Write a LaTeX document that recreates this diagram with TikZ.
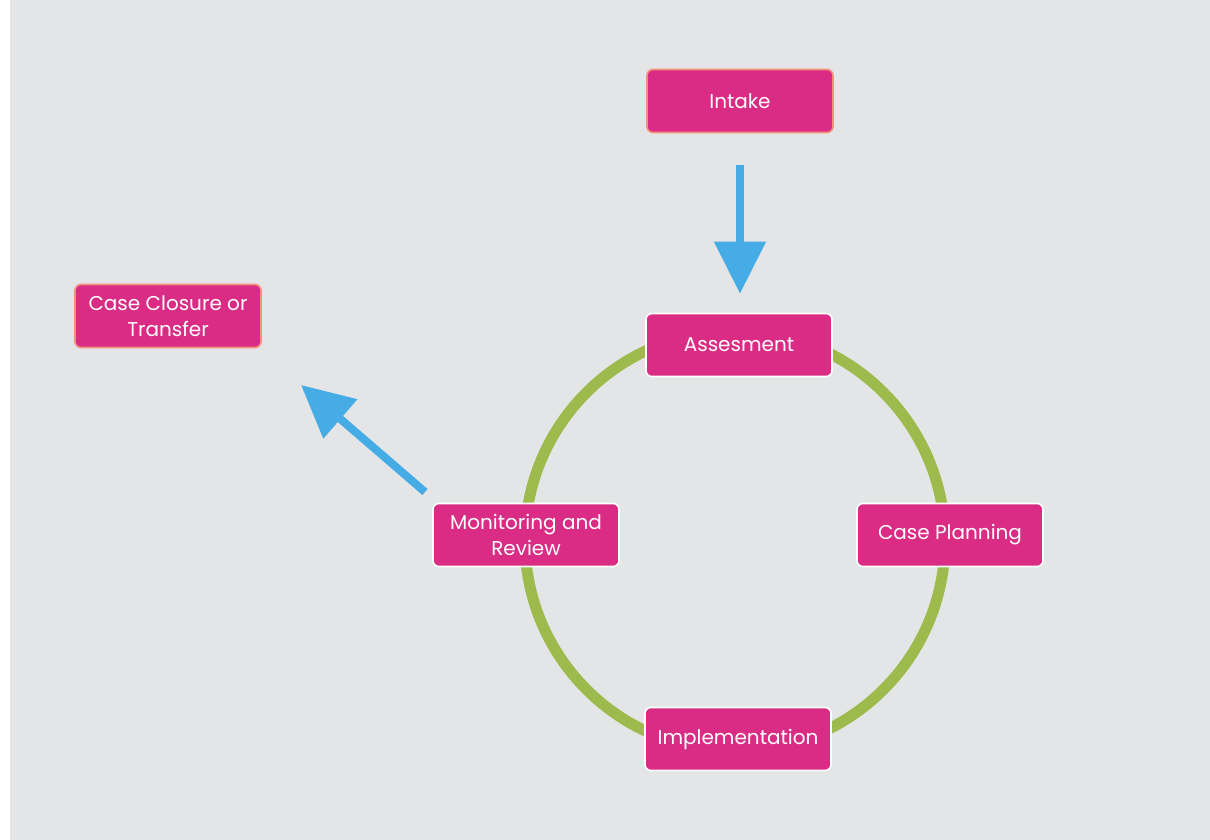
\documentclass[tikz,border=0pt]{standalone}
\usepackage{fontspec}
\setmainfont{Poppins}
\usetikzlibrary{arrows.meta}
\definecolor{bgc}{HTML}{E4E5E6}
\definecolor{boxpink}{HTML}{DA2C84}
\definecolor{peach}{HTML}{F3907A}
\definecolor{ringgreen}{HTML}{9CBB4C}
\definecolor{arrowblue}{HTML}{45ACE5}
\tikzset{
  stagebox/.style={draw=white, line width=1.6pt, fill=boxpink, rounded corners=6pt,
    minimum width=186pt, minimum height=63pt, text=white, align=center,
    font=\fontsize{20}{26}\selectfont, inner sep=0pt},
  endbox/.style={stagebox, draw=peach},
  bluearrow/.style={draw=arrowblue, line width=8pt, -{Triangle[width=50pt,length=52pt]}},
}
\begin{document}
\begin{tikzpicture}[x=1pt,y=-1pt]
\useasboundingbox (0,0) rectangle (1210,840);
\fill[white] (0,0) rectangle (1210,840);
\fill[bgc] (10,0) rectangle (1210,840);
\draw[ringgreen, line width=11pt] (735,541) circle[radius=210pt];
\node[endbox] (intake) at (740,101) {Intake};
\node[stagebox] (assess) at (739,345) {Assesment};
\node[stagebox] (plan) at (950,535) {Case Planning};
\node[stagebox] (impl) at (738,739) {Implementation};
\node[stagebox] (monitor) at (526,535) {Monitoring and\\Review};
\node[endbox] (closure) at (168,316) {Case Closure or\\Transfer};
\draw[bluearrow, shorten <=32pt, shorten >=19pt] (intake.south) -- (intake.south |- assess.north);
\coordinate (mstart) at (425,492);
\coordinate (cend) at (301,385);
\draw[bluearrow] (mstart) -- (cend);
\end{tikzpicture}
\end{document}
